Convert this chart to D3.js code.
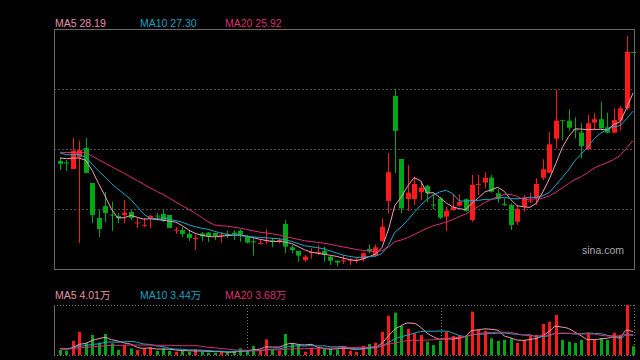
<!DOCTYPE html>
<html><head><meta charset="utf-8">
<script src="https://cdn.jsdelivr.net/npm/d3@7"></script>
<style>html,body{margin:0;background:#000;}svg{display:block}</style>
</head><body>
<svg id="c" width="640" height="360"></svg>
<script>
// ---- data ----
const priorCloses = [24.98,25.36,25.45,24.61,25.64,25.08,25.74,25.59,25.50,25.74,25.64,25.45,25.36,25.69,25.64,24.98,25.27,25.45,24.89];
const opens = [24.94,24.87,24.56,25.12,25.55,23.90,22.26,22.82,22.42,22.35,
22.40,22.54,22.02,21.91,22.26,22.37,22.45,22.40,21.68,21.69,
21.51,21.29,21.53,21.57,21.55,21.44,21.51,21.57,21.66,21.38,
21.16,21.04,21.20,21.21,21.20,21.98,20.88,20.71,20.28,20.63,
20.63,20.71,20.44,20.25,20.22,20.27,20.27,20.33,20.80,20.49,
21.18,23.06,27.99,25.03,23.15,23.15,23.47,23.76,22.89,23.18,
22.32,22.63,22.84,23.14,22.16,23.83,23.92,24.15,23.42,22.92,
22.87,22.08,22.79,23.03,23.18,24.15,24.39,25.98,26.85,26.83,
26.42,26.27,25.49,26.74,26.90,26.52,26.27,26.83,27.41,30.06];
const highs = [25.12,24.98,26.02,25.88,26.02,23.90,22.63,23.48,23.01,22.49,
23.10,22.63,22.30,22.26,22.40,22.49,22.63,22.40,21.83,21.83,
21.69,21.46,21.60,21.60,21.57,21.60,21.66,21.69,21.73,21.46,
21.38,21.26,21.73,21.33,21.30,22.16,20.99,20.71,20.52,20.83,
20.99,20.91,20.49,20.25,20.52,20.36,20.39,20.64,21.02,21.02,
22.24,25.30,28.32,25.03,24.75,24.20,23.96,23.81,23.42,23.26,
22.79,23.37,23.37,23.18,24.28,24.28,24.41,24.28,23.61,23.18,
22.95,22.87,23.34,23.43,24.12,25.02,26.31,28.27,26.86,27.38,
26.99,26.71,27.10,27.18,27.72,27.21,27.41,27.52,30.81,30.06];
const lows = [24.51,24.47,24.56,21.08,24.37,22.02,21.36,22.07,21.65,22.02,
22.02,22.16,21.79,21.83,21.79,22.21,22.07,21.79,21.51,21.36,
21.18,20.75,21.18,21.13,21.22,21.10,21.30,21.22,21.14,21.07,
20.49,21.01,21.04,20.88,21.07,20.60,20.60,20.20,20.20,20.36,
20.52,20.20,20.05,19.97,20.10,20.05,20.13,20.20,20.60,20.44,
21.14,22.48,24.36,22.48,22.59,22.87,23.10,23.00,22.68,22.21,
21.65,22.59,22.79,22.55,22.08,23.34,23.65,23.45,22.98,22.82,
21.69,21.93,22.55,22.96,22.87,24.04,24.36,25.53,25.92,26.36,
26.00,25.06,25.45,26.39,26.39,26.24,26.24,26.36,27.33,30.04];
const closes = [24.80,24.82,25.41,25.45,24.37,22.40,21.74,22.49,22.37,22.26,
22.51,22.26,22.05,21.94,22.35,22.33,22.12,21.79,21.71,21.51,
21.32,21.32,21.39,21.41,21.41,21.47,21.46,21.49,21.49,21.10,
21.13,21.08,21.22,21.18,21.22,20.91,20.75,20.49,20.44,20.66,
20.66,20.52,20.25,20.16,20.27,20.30,20.30,20.60,20.71,20.88,
21.85,24.41,26.35,22.71,23.45,23.86,23.68,23.42,22.84,22.27,
22.60,22.76,23.02,22.59,23.81,23.86,24.15,23.49,23.18,22.88,
21.93,22.68,23.23,23.08,23.86,24.55,25.72,26.83,26.82,26.50,
26.38,25.64,26.71,26.90,26.47,26.27,26.86,27.41,30.07,30.04];
const priorVolumes = [0.9,1.1,0.8,1.0,0.7,1.2,0.9,0.8,1.0,1.1,0.9,0.8,1.3,1.0,1.2,1.4,1.0,1.3,1.2];
const volumes = [0.86,0.74,2.41,3.96,2.01,3.44,2.12,3.61,2.01,0.86,
1.72,1.15,0.86,1.15,1.26,0.69,1.15,0.69,0.57,0.69,
0.57,0.98,0.57,0.40,0.40,0.57,0.40,0.74,1.15,0.69,
1.55,0.86,2.70,0.98,0.74,3.61,2.01,1.72,0.57,1.26,
1.15,1.03,1.03,0.98,1.55,0.74,0.57,1.55,1.89,2.12,
4.01,6.76,7.28,4.99,4.47,3.73,3.44,2.29,1.72,2.46,
4.01,3.27,3.27,3.15,7.45,4.42,4.18,2.87,2.41,2.58,
2.87,2.12,2.58,3.27,3.44,5.33,5.73,6.88,2.58,2.29,
2.06,2.58,3.73,2.58,2.92,2.58,3.84,3.44,8.60,1.50];
const maPeriods = [5,10,20];
const maNames = ["MA5","MA10","MA20"];
const priceMaText = ["28.19","27.30","25.92"];
const volMaText = ["4.01万","3.44万","3.68万"];
const watermark = "sina.com";

// ---- styles ----
const maColors = ["#f0a0b8","#20a8c8","#d83070"];
const labelColors = ["#e890a8","#1ea0c0","#d8306a"];
const upColor = "#ff1a1a", downColor = "#00a818";
const font = "'Liberation Sans', Arial, 'Noto Sans CJK SC', sans-serif";

const svg = d3.select("#c");
const n = closes.length;
const L = 54, R = 634, T = 29, B = 269, VT = 305, VB = 355;

const x = d3.scaleLinear().domain([0, 89]).range([60, 633]);
const y = d3.scaleLinear().domain([19.86, 31.14]).range([B, T]);
const yv = d3.scaleLinear().domain([0, 8.6]).range([VB, VT]);

function ma(full, offset, p) {
  return d3.range(n).map(i => {
    const j = i + offset;
    if (j - p + 1 < 0) return null;
    return d3.mean(full.slice(j - p + 1, j + 1));
  });
}
const fullC = priorCloses.concat(closes);
const fullV = priorVolumes.concat(volumes);
const priceMAs = maPeriods.map(p => ma(fullC, priorCloses.length, p));
const volMAs = maPeriods.map(p => ma(fullV, priorVolumes.length, p));

// ---- main panel frame & grid ----
const gridG = svg.append("g");
[89, 149, 209].forEach(gy => {
  gridG.append("line").attr("x1", L).attr("x2", R).attr("y1", gy + 0.5).attr("y2", gy + 0.5)
    .attr("stroke", "#4a4a4a").attr("stroke-dasharray", "2,2");
});
svg.append("rect").attr("x", L + 0.5).attr("y", T + 0.5).attr("width", R - L).attr("height", B - T)
  .attr("fill", "none").attr("stroke", "#6a6a6a");

// watermark text
svg.append("text").attr("x", 582).attr("y", 254).attr("fill", "#a8a8a8")
  .attr("font-family", font).attr("font-size", "10.5px").text(watermark);

// ---- candles ----
const idx = d3.range(n);
const isUp = i => closes[i] > opens[i] || (closes[i] === opens[i] && (i === 0 || closes[i] >= closes[i - 1]));
const cg = svg.append("g");
cg.selectAll("line.wick").data(idx).join("line")
  .attr("x1", i => Math.round(x(i)) + 0.5).attr("x2", i => Math.round(x(i)) + 0.5)
  .attr("y1", i => y(highs[i])).attr("y2", i => y(lows[i]))
  .attr("stroke", i => isUp(i) ? upColor : downColor).attr("stroke-width", 1);
cg.selectAll("rect.body").data(idx).join("rect")
  .attr("x", i => Math.round(x(i)) - 2).attr("width", 5)
  .attr("y", i => y(Math.max(opens[i], closes[i])))
  .attr("height", i => Math.max(1, Math.abs(y(opens[i]) - y(closes[i]))))
  .attr("fill", i => isUp(i) ? upColor : downColor);

// ---- price MA lines ----
const line = d3.line().defined(d => d[1] != null).x(d => x(d[0])).y(d => y(d[1]));
priceMAs.forEach((arr, k) => {
  svg.append("path").datum(arr.map((v, i) => [i, v])).attr("d", line)
    .attr("fill", "none").attr("stroke", maColors[k]).attr("stroke-width", 1);
});

// ---- legends ----
const legX = [55, 140, 225];
maNames.forEach((m, k) => {
  svg.append("text").attr("x", legX[k]).attr("y", 27).attr("fill", labelColors[k])
    .attr("font-family", font).attr("font-size", "10.5px").text(m + " " + priceMaText[k]);
  svg.append("text").attr("x", legX[k]).attr("y", 299).attr("fill", labelColors[k])
    .attr("font-family", font).attr("font-size", "10.5px").text(m + " " + volMaText[k]);
});

// ---- volume panel ----
const vg = svg.append("g");
const dot = "1,2";
vg.append("line").attr("x1", L).attr("x2", R).attr("y1", VT + 0.5).attr("y2", VT + 0.5).attr("stroke", "#777").attr("stroke-dasharray", dot);
vg.append("line").attr("x1", L).attr("x2", R).attr("y1", VB + 0.5).attr("y2", VB + 0.5).attr("stroke", "#777").attr("stroke-dasharray", dot);
vg.append("line").attr("x1", L + 0.5).attr("x2", L + 0.5).attr("y1", VT).attr("y2", VB).attr("stroke", "#6a6a6a");
[L + (R - L) / 3, L + 2 * (R - L) / 3, R].forEach(vx => {
  vg.append("line").attr("x1", Math.round(vx) + 0.5).attr("x2", Math.round(vx) + 0.5).attr("y1", VT).attr("y2", VB)
    .attr("stroke", "#777").attr("stroke-dasharray", dot);
});
vg.selectAll("rect.vol").data(idx).join("rect")
  .attr("x", i => Math.round(x(i)) - 1).attr("width", 3)
  .attr("y", i => yv(volumes[i])).attr("height", i => VB - yv(volumes[i]))
  .attr("fill", i => isUp(i) ? upColor : downColor);
const vline = d3.line().defined(d => d[1] != null).x(d => x(d[0])).y(d => yv(d[1])).curve(d3.curveMonotoneX);
volMAs.forEach((arr, k) => {
  vg.append("path").datum(arr.map((v, i) => [i, v])).attr("d", vline)
    .attr("fill", "none").attr("stroke", maColors[k]).attr("stroke-width", 1);
});
</script>
</body></html>
